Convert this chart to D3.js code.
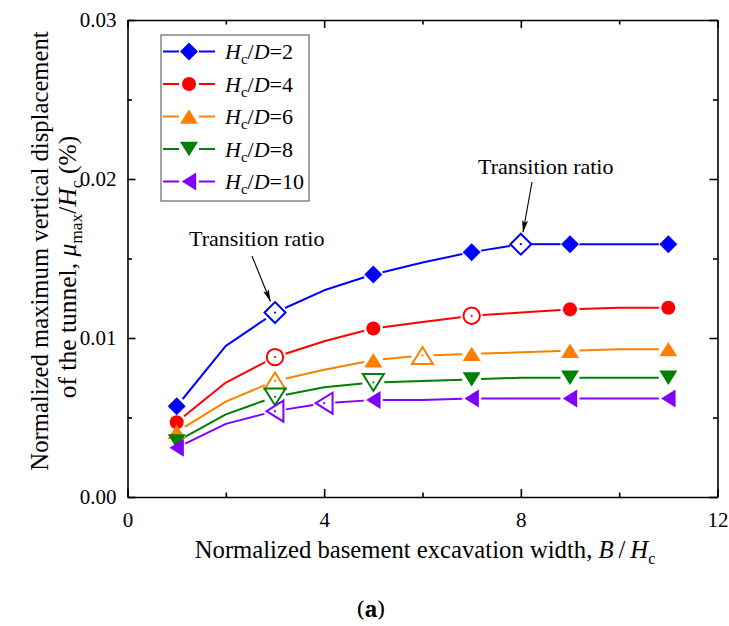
<!DOCTYPE html>
<html>
<head>
<meta charset="utf-8">
<script src="https://cdn.jsdelivr.net/npm/d3@7"></script>
<style>
  html, body { margin: 0; padding: 0; background: #fff; }
  svg { display: block; }
</style>
</head>
<body>
<svg id="chart" width="729" height="626"></svg>
<script>
// Normalized basement excavation width B/Hc
const widthRatios = [1, 2, 3, 4, 5, 6, 7, 8, 9, 10, 11];

// Normalized maximum vertical displacement of the tunnel (%), one list per Hc/D
const disp_HcD2  = [0.0057, 0.0095, 0.0116, 0.0130, 0.0140, 0.01475, 0.0154, 0.0159, 0.0159, 0.0159, 0.0159];
const disp_HcD4  = [0.0047, 0.0072, 0.0088, 0.0098, 0.0106, 0.0110, 0.0114, 0.0116, 0.0118, 0.0119, 0.0119];
const disp_HcD6  = [0.0041, 0.0060, 0.0073, 0.0080, 0.0086, 0.0089, 0.0090, 0.0091, 0.0092, 0.0093, 0.0093];
const disp_HcD8  = [0.0035, 0.0052, 0.0063, 0.0069, 0.0072, 0.0073, 0.0074, 0.0075, 0.0075, 0.0075, 0.0075];
const disp_HcD10 = [0.0031, 0.0046, 0.0054, 0.0059, 0.0061, 0.0061, 0.0062, 0.0062, 0.0062, 0.0062, 0.0062];

// Widths that carry a solid symbol, and the transition ratios (open symbols)
const solidAt_HcD2  = [1, 5, 7, 9, 11];
const solidAt_HcD4  = [1, 5, 9, 11];
const solidAt_HcD6  = [1, 5, 7, 9, 11];
const solidAt_HcD8  = [1, 7, 9, 11];
const solidAt_HcD10 = [1, 5, 7, 9, 11];
const openAt_HcD2  = [3, 8];
const openAt_HcD4  = [3, 7];
const openAt_HcD6  = [3, 6];
const openAt_HcD8  = [3, 5];
const openAt_HcD10 = [3, 4];

const seriesLabels = ["2", "4", "6", "8", "10"];
const xTickValues = [0, 4, 8, 12];
const yTickValues = [0, 0.01, 0.02, 0.03];
const yTickLabels = ["0.00", "0.01", "0.02", "0.03"];

const colors  = ["#0000ff", "#ff0000", "#ff8000", "#008000", "#8000ff"];
const shapes  = ["diamond", "circle", "up", "down", "left"];

const series = [
  { label: seriesLabels[0], values: disp_HcD2,  solid: solidAt_HcD2,  open: openAt_HcD2  },
  { label: seriesLabels[1], values: disp_HcD4,  solid: solidAt_HcD4,  open: openAt_HcD4  },
  { label: seriesLabels[2], values: disp_HcD6,  solid: solidAt_HcD6,  open: openAt_HcD6  },
  { label: seriesLabels[3], values: disp_HcD8,  solid: solidAt_HcD8,  open: openAt_HcD8  },
  { label: seriesLabels[4], values: disp_HcD10, solid: solidAt_HcD10, open: openAt_HcD10 }
].map((s, i) => ({ ...s, color: colors[i], shape: shapes[i] }));

const SERIF = "'Liberation Serif', Tinos, 'Times New Roman', serif";

const svg = d3.select("#chart").style("font-family", SERIF);
const frame = { left: 127.5, right: 717.5, top: 20, bottom: 497 };

const x = d3.scaleLinear().domain([0, 12]).range([frame.left, frame.right]);
const y = d3.scaleLinear().domain([0, 0.03]).range([frame.bottom, frame.top]);

// Symbol outlines, r = half extent
function symbolPath(shape, r) {
  switch (shape) {
    case "diamond":
      return `M0,${-r}L${r},0L0,${r}L${-r},0Z`;
    case "circle": {
      const p = d3.path(); p.arc(0, 0, r * 0.78, 0, 2 * Math.PI); p.closePath(); return p.toString();
    }
    case "up": {
      const h = r * 1.6, w = r;
      return `M0,${-h / 2}L${w},${h / 2}L${-w},${h / 2}Z`;
    }
    case "down": {
      const h = r * 1.6, w = r;
      return `M0,${h / 2}L${w},${-h / 2}L${-w},${-h / 2}Z`;
    }
    case "left": {
      const h = r * 1.6, w = r;
      return `M${-h / 2},0L${h / 2},${-w}L${h / 2},${w}Z`;
    }
  }
}

// ---- axes (ticks point inward on all four sides) ----
const axisStroke = 1.6;
const minorX = [2, 6, 10];
const minorY = [0.005, 0.015, 0.025];

function styleAxis(g) {
  g.attr("font-family", null);
  g.selectAll("path.domain").attr("stroke", "#000").attr("stroke-width", axisStroke);
  g.selectAll(".tick line").attr("stroke", "#000").attr("stroke-width", axisStroke);
  g.selectAll(".tick text").attr("font-size", 21).style("font-family", SERIF).attr("fill", "#000");
}

const gx = svg.append("g").attr("transform", `translate(0,${frame.bottom})`)
  .call(d3.axisBottom(x).tickValues(xTickValues).tickSize(-8).tickSizeOuter(0).tickPadding(15).tickFormat(d3.format("d")));
styleAxis(gx);
svg.append("g").attr("transform", `translate(0,${frame.bottom})`)
  .call(d3.axisBottom(x).tickValues(minorX).tickSize(-4.5).tickFormat("")).call(styleAxis)
  .select("path.domain").remove();

const gxt = svg.append("g").attr("transform", `translate(0,${frame.top})`)
  .call(d3.axisTop(x).tickValues(xTickValues).tickSize(-8).tickSizeOuter(0).tickFormat(""));
styleAxis(gxt);
svg.append("g").attr("transform", `translate(0,${frame.top})`)
  .call(d3.axisTop(x).tickValues(minorX).tickSize(-4.5).tickFormat("")).call(styleAxis)
  .select("path.domain").remove();

const gy = svg.append("g").attr("transform", `translate(${frame.left},0)`)
  .call(d3.axisLeft(y).tickValues(yTickValues).tickSize(-8).tickSizeOuter(0).tickPadding(11)
    .tickFormat((d, i) => yTickLabels[i]));
styleAxis(gy);
svg.append("g").attr("transform", `translate(${frame.left},0)`)
  .call(d3.axisLeft(y).tickValues(minorY).tickSize(-4.5).tickFormat("")).call(styleAxis)
  .select("path.domain").remove();

const gyr = svg.append("g").attr("transform", `translate(${frame.right},0)`)
  .call(d3.axisRight(y).tickValues(yTickValues).tickSize(-8).tickSizeOuter(0).tickFormat(""));
styleAxis(gyr);
svg.append("g").attr("transform", `translate(${frame.right},0)`)
  .call(d3.axisRight(y).tickValues(minorY).tickSize(-4.5).tickFormat("")).call(styleAxis)
  .select("path.domain").remove();

// ---- series lines, stopping short of each symbol ----
const lineGen = d3.line().x(d => d[0]).y(d => d[1]);
const plot = svg.append("g");

function trimEnd(a, b, gap) {
  const dx = b[0] - a[0], dy = b[1] - a[1];
  const len = Math.hypot(dx, dy);
  if (len <= gap) return a.slice();
  return [b[0] - dx / len * gap, b[1] - dy / len * gap];
}

series.forEach(s => {
  const pts = widthRatios.map((w, i) => ({ w, p: [x(w), y(s.values[i])] }));
  const marked = w => s.solid.includes(w) || s.open.includes(w);
  const gapOf = w => s.open.includes(w) ? 11 : 9.5;
  // break the polyline into runs between symbols
  let run = [pts[0]];
  const runs = [];
  for (let i = 1; i < pts.length; i++) {
    run.push(pts[i]);
    if (marked(pts[i].w)) { runs.push(run); run = [pts[i]]; }
  }
  if (run.length > 1) runs.push(run);
  runs.forEach(r => {
    const coords = r.map(d => d.p.slice());
    if (marked(r[0].w)) coords[0] = trimEnd(coords[1], coords[0], gapOf(r[0].w));
    const n = coords.length - 1;
    if (marked(r[n].w)) coords[n] = trimEnd(r[n - 1].p, coords[n], gapOf(r[n].w));
    plot.append("path").attr("d", lineGen(coords))
      .attr("fill", "none").attr("stroke", s.color).attr("stroke-width", 2)
      .attr("stroke-linejoin", "round");
  });
});

// ---- symbols ----
series.forEach(s => {
  const g = plot.append("g");
  s.solid.forEach(w => {
    const i = widthRatios.indexOf(w);
    g.append("path").attr("d", symbolPath(s.shape, 9))
      .attr("transform", `translate(${x(w)},${y(s.values[i])})`)
      .attr("fill", s.color);
  });
  s.open.forEach(w => {
    const i = widthRatios.indexOf(w);
    const t = `translate(${x(w)},${y(s.values[i])})`;
    g.append("path").attr("d", symbolPath(s.shape, 10.5))
      .attr("transform", t).attr("fill", "#fff").attr("stroke", s.color).attr("stroke-width", 2);
    g.append("circle").attr("r", 1.1).attr("transform", t).attr("fill", s.color);
  });
});

// ---- legend ----
const legend = svg.append("g");
legend.append("rect").attr("x", 161).attr("y", 35).attr("width", 148).attr("height", 166)
  .attr("fill", "#fff").attr("stroke", "#666").attr("stroke-width", 1.2);
series.forEach((s, i) => {
  const cy = 51.5 + i * 32.5;
  legend.append("line").attr("x1", 163).attr("x2", 179).attr("y1", cy).attr("y2", cy)
    .attr("stroke", s.color).attr("stroke-width", 2);
  legend.append("line").attr("x1", 199).attr("x2", 215).attr("y1", cy).attr("y2", cy)
    .attr("stroke", s.color).attr("stroke-width", 2);
  legend.append("path").attr("d", symbolPath(s.shape, 9))
    .attr("transform", `translate(189,${cy})`).attr("fill", s.color);
  const t = legend.append("text").attr("x", 225).attr("y", cy + 7.5).attr("font-size", 22);
  t.append("tspan").attr("font-style", "italic").text("H");
  t.append("tspan").attr("font-size", 15).attr("dy", 5).text("c");
  t.append("tspan").attr("dy", -5).text("/");
  t.append("tspan").attr("font-style", "italic").text("D");
  t.append("tspan").text("=" + s.label);
});

// ---- annotations ----
const defs = svg.append("defs");
defs.append("marker").attr("id", "arrowHead").attr("viewBox", "0 0 12 6")
  .attr("refX", 12).attr("refY", 3).attr("markerWidth", 12).attr("markerHeight", 6)
  .attr("markerUnits", "userSpaceOnUse").attr("orient", "auto")
  .append("path").attr("d", "M0,0L12,3L0,6L2.5,3Z").attr("fill", "#000");

function annotate(tx, ty, x1, y1, w) {
  const i = widthRatios.indexOf(w);
  const px = x(w), py = y(disp_HcD2[i]);
  svg.append("text").attr("x", tx).attr("y", ty).attr("font-size", 22).text("Transition ratio");
  const ang = Math.atan2(py - y1, px - x1);
  const x2 = px - Math.cos(ang) * 12, y2 = py - Math.sin(ang) * 12;
  svg.append("line").attr("x1", x1).attr("y1", y1).attr("x2", x2).attr("y2", y2)
    .attr("stroke", "#000").attr("stroke-width", 1.1).attr("marker-end", "url(#arrowHead)");
}
annotate(189, 246, 252, 256, 3);
annotate(478, 174, 532, 182, 8);

// ---- axis titles ----
const xt = svg.append("text").attr("x", 425).attr("y", 558).attr("text-anchor", "middle").attr("font-size", 24.7);
xt.append("tspan").text("Normalized basement excavation width, ");
xt.append("tspan").attr("font-style", "italic").text("B");
xt.append("tspan").text("\u2009/\u2009");
xt.append("tspan").attr("font-style", "italic").text("H");
xt.append("tspan").attr("font-size", 16).attr("dy", 6).text("c");

const yt = svg.append("g").attr("transform", "rotate(-90)");
yt.append("text").attr("x", -251).attr("y", 48).attr("text-anchor", "middle").attr("font-size", 24.7)
  .text("Normalized maximum vertical displacement");
const yt2 = yt.append("text").attr("x", -267).attr("y", 76).attr("text-anchor", "middle").attr("font-size", 25.5);
yt2.append("tspan").text("of the tunnel, ");
yt2.append("tspan").attr("font-style", "italic").text("\u03bc");
yt2.append("tspan").attr("font-size", 17.5).attr("dy", 6).text("max");
yt2.append("tspan").attr("dy", -6).text("/");
yt2.append("tspan").attr("font-style", "italic").text("H");
yt2.append("tspan").attr("font-size", 17.5).attr("dy", 6).text("c");
yt2.append("tspan").attr("dy", -6).text(" (%)");

// ---- panel label ----
const pl = svg.append("text").attr("x", 371).attr("y", 617).attr("text-anchor", "middle")
  .attr("font-size", 22).style("font-family", "'Noto Serif', 'DejaVu Serif', serif");
pl.append("tspan").text("(");
pl.append("tspan").attr("font-weight", "bold").text("a");
pl.append("tspan").text(")");
</script>
</body>
</html>
